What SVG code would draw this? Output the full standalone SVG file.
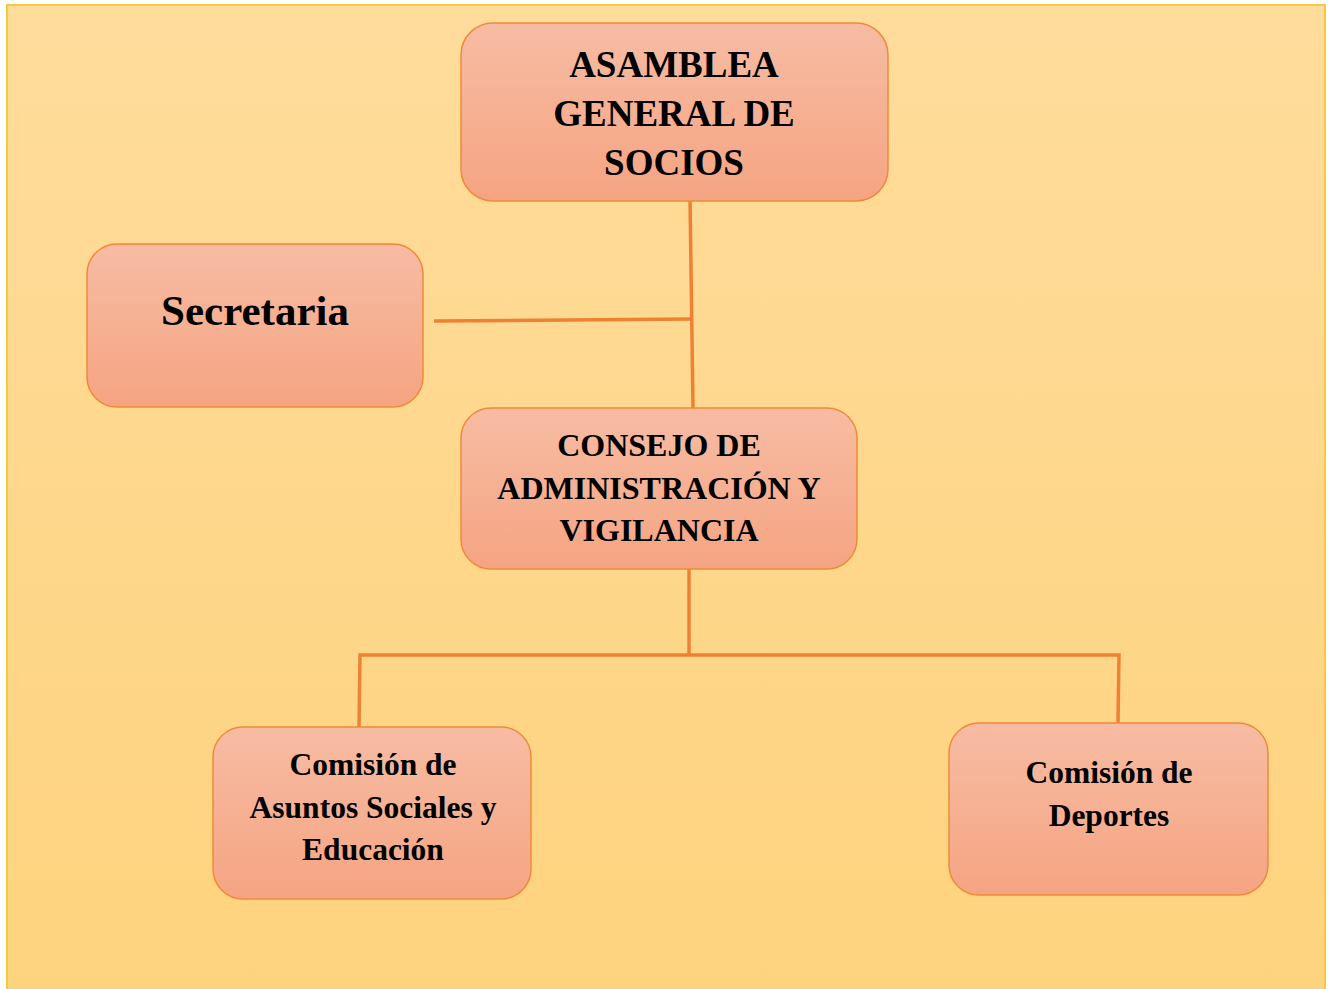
<svg xmlns="http://www.w3.org/2000/svg" width="1329" height="989" viewBox="0 0 1329 989">
<defs>
<linearGradient id="bg" x1="0" y1="0" x2="0" y2="1">
<stop offset="0" stop-color="#FEDC9B"/>
<stop offset="1" stop-color="#FED37E"/>
</linearGradient>
<linearGradient id="box" x1="0" y1="0" x2="0" y2="1">
<stop offset="0" stop-color="#F7BCA3"/>
<stop offset="1" stop-color="#F5A482"/>
</linearGradient>
<style>
.node{fill:url(#box);stroke:#F08A3A;stroke-width:1.5}
.t{font-family:"Liberation Serif","Times New Roman",serif;font-weight:bold;fill:#000;text-anchor:middle}
.c{stroke:#EE8134;stroke-width:3.5;fill:none}
</style>
</defs>
<rect x="7" y="5" width="1318" height="990" fill="url(#bg)" stroke="#F8C840" stroke-width="2"/>
<g id="connectors">
<polyline class="c" points="690,198 693,408"/>
<polyline class="c" points="434,321 691,319"/>
<polyline class="c" points="689,569 689,655"/>
<polyline class="c" points="359,727 360,655 1119,655 1118,723"/>
</g>
<g id="asamblea">
<rect class="node" x="461" y="23" width="427" height="178" rx="32"/>
<text class="t" font-size="37" x="674" y="77">ASAMBLEA</text>
<text class="t" font-size="37" x="674" y="126">GENERAL DE</text>
<text class="t" font-size="37" x="674" y="175">SOCIOS</text>
</g>
<g id="secretaria">
<rect class="node" x="87" y="244" width="336" height="163" rx="30"/>
<text class="t" font-size="43" x="255" y="325">Secretaria</text>
</g>
<g id="consejo">
<rect class="node" x="461" y="408" width="396" height="161" rx="30"/>
<text class="t" font-size="32" x="659" y="456">CONSEJO DE</text>
<text class="t" font-size="32" x="659" y="499">ADMINISTRACIÓN Y</text>
<text class="t" font-size="32" x="659" y="541">VIGILANCIA</text>
</g>
<g id="asuntos">
<rect class="node" x="213" y="727" width="318" height="172" rx="30"/>
<text class="t" font-size="31.5" x="373" y="775">Comisión de</text>
<text class="t" font-size="31.5" x="373" y="818">Asuntos Sociales y</text>
<text class="t" font-size="31.5" x="373" y="860">Educación</text>
</g>
<g id="deportes">
<rect class="node" x="949" y="723" width="319" height="172" rx="30"/>
<text class="t" font-size="31.5" x="1109" y="783">Comisión de</text>
<text class="t" font-size="31.5" x="1109" y="826">Deportes</text>
</g>
</svg>
